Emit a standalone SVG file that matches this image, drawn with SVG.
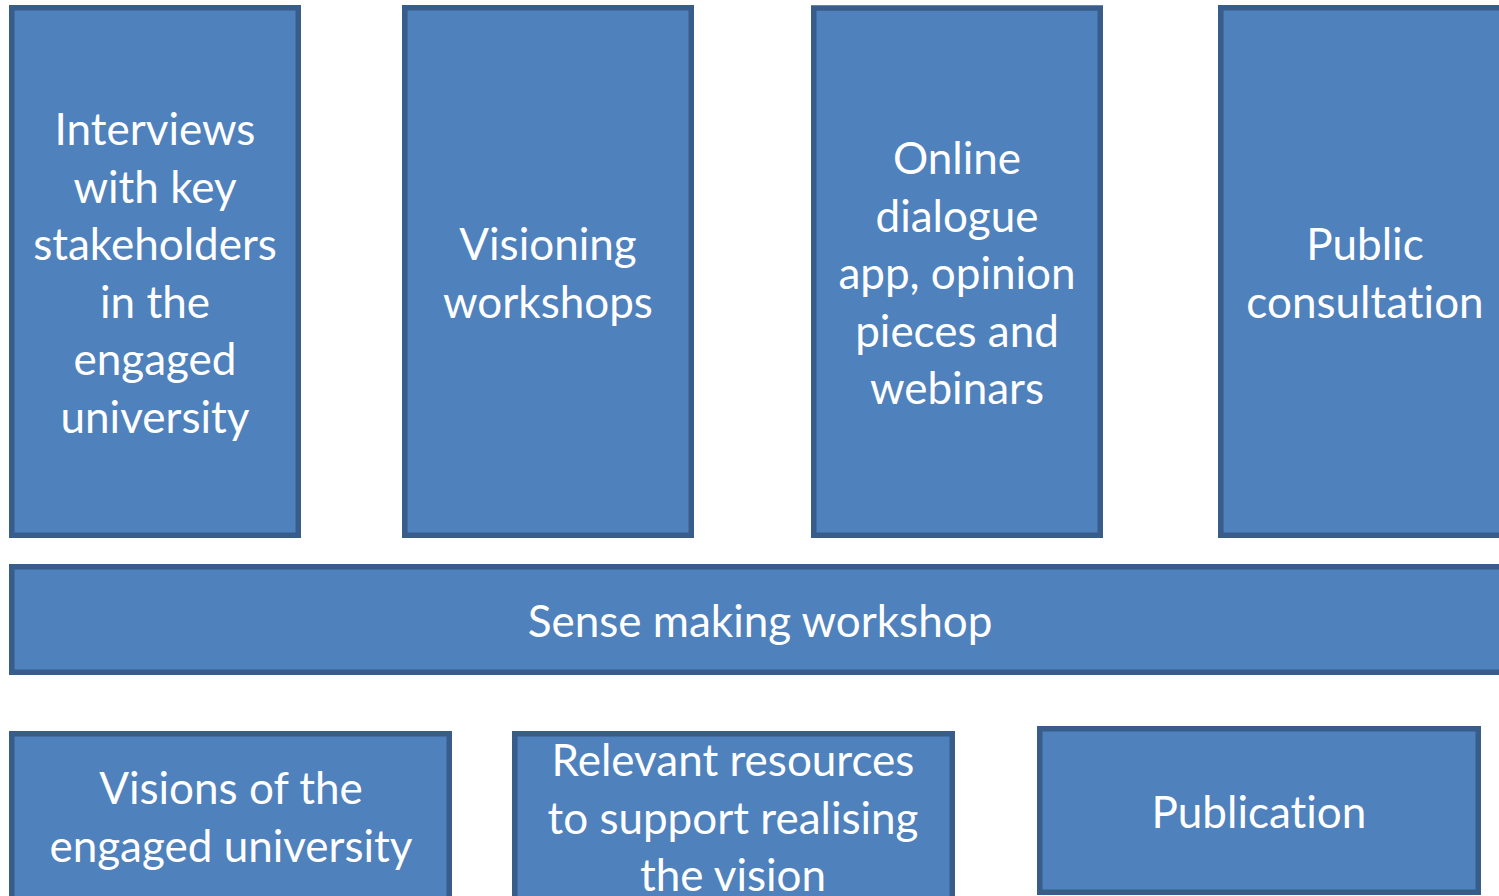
<svg xmlns="http://www.w3.org/2000/svg" width="1499" height="896" viewBox="0 0 1499 896">
<style>
.box{fill:#4F81BD;stroke:#385D8A;stroke-width:5.5}
.t{font-family:Lato,"Open Sans","Liberation Sans",sans-serif;font-size:44px;fill:#FFFFFF;text-anchor:middle;font-variant-ligatures:none;font-feature-settings:"liga" 0,"clig" 0}
</style>
<rect width="1499" height="896" fill="#FFFFFF"/>
<g id="interviews">
<rect class="box" x="11.75" y="7.75" width="286.5" height="527.5"/>
<text class="t"><tspan x="155" y="145">Interviews</tspan><tspan x="155" y="202.6">with key</tspan><tspan x="155" y="260.2">stakeholders</tspan><tspan x="155" y="317.8">in the</tspan><tspan x="155" y="375.4">engaged</tspan><tspan x="155" y="433">university</tspan></text>
</g>
<g id="visioning">
<rect class="box" x="404.75" y="7.75" width="286.5" height="527.5"/>
<text class="t"><tspan x="548" y="260.2">Visioning</tspan><tspan x="548" y="317.8">workshops</tspan></text>
</g>
<g id="online">
<rect class="box" x="813.75" y="8" width="286.5" height="527.25"/>
<text class="t"><tspan x="957" y="174">Online</tspan><tspan x="957" y="231.6">dialogue</tspan><tspan x="957" y="289.2">app, opinion</tspan><tspan x="957" y="346.8">pieces and</tspan><tspan x="957" y="404.4">webinars</tspan></text>
</g>
<g id="public">
<rect class="box" x="1220.75" y="7.75" width="300" height="527.5"/>
<text class="t"><tspan x="1365" y="260.2">Public</tspan><tspan x="1365" y="317.8">consultation</tspan></text>
</g>
<g id="sense">
<rect class="box" x="11.75" y="566.75" width="1510" height="105.5"/>
<text class="t" x="760" y="637">Sense making workshop</text>
</g>
<g id="visions">
<rect class="box" x="11.75" y="733.75" width="437.5" height="200"/>
<text class="t"><tspan x="231" y="804">Visions of the</tspan><tspan x="231" y="861.6">engaged university</tspan></text>
</g>
<g id="resources">
<rect class="box" x="514.75" y="733.75" width="437.5" height="200"/>
<text class="t"><tspan x="733" y="776">Relevant resources</tspan><tspan x="733" y="833.6">to support realising</tspan><tspan x="733" y="891.2">the vision</tspan></text>
</g>
<g id="publication">
<rect class="box" x="1039.75" y="728.75" width="438.5" height="163.5"/>
<text class="t" x="1259" y="828">Publication</text>
</g>
<g id="connectors"></g>
</svg>
